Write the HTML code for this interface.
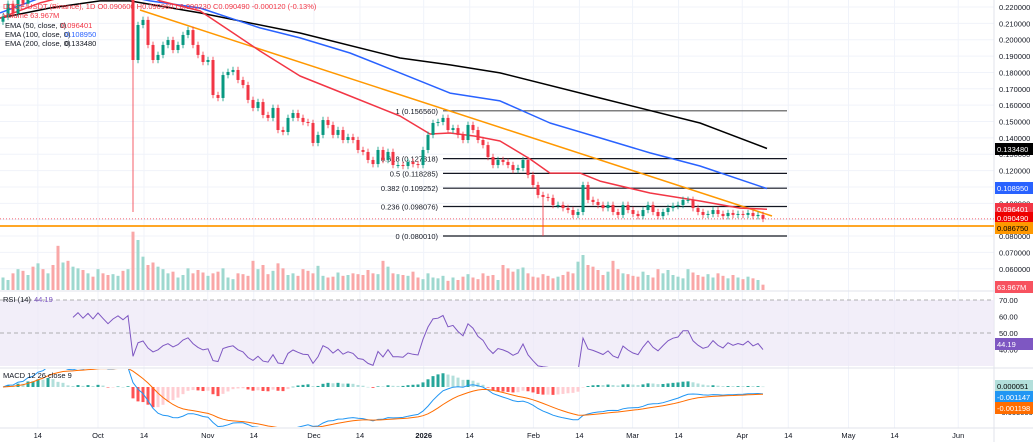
<!DOCTYPE html>
<html><head><meta charset="utf-8">
<style>
html,body{margin:0;padding:0;background:#fff;}
#wrap{position:relative;width:1033px;height:442px;overflow:hidden;font-family:"Liberation Sans",sans-serif;}
svg text{font-family:"Liberation Sans",sans-serif;}
</style></head>
<body>
<div id="wrap">
<svg id="chart" width="1033" height="442"></svg>
</div>
<script>
// ---- data ----
const closes=[0.214,0.222,0.216,0.228,0.222,0.235,0.23,0.242,0.236,0.248,0.24,0.232,0.238,0.23,0.236,0.244,0.238,0.246,0.24,0.25,0.244,0.238,0.245,0.25,0.246,0.252,
0.1876,
0.2090,0.2121,0.1968,0.1876,0.1907,0.1968,0.1998,0.1937,0.1968,0.2029,0.2059,0.1968,0.1907,0.1864,0.1876,0.1662,0.1644,0.1784,0.1803,0.1815,0.1754,0.1723,0.1632,0.1583,0.1619,0.1540,0.1522,0.1583,0.1448,0.1436,0.1522,0.1552,0.1522,0.1497,0.1491,0.1369,0.1418,0.1509,0.1479,0.1418,0.1448,0.1387,0.1405,0.1387,0.1326,0.1314,0.1265,0.1240,0.1326,0.1265,0.1314,0.1234,0.1234,0.1228,0.1253,0.1240,0.1234,0.1326,0.1418,0.1491,0.1497,0.1522,0.1448,0.1460,0.1418,0.1387,0.1479,0.1448,0.1387,0.1356,0.1283,0.1234,0.1265,0.1253,0.1234,0.1204,0.1216,0.1265,0.1173,0.1112,0.1051,0.1039,0.1033,0.0990,0.0990,0.0971,0.0959,0.0929,0.0947,0.1112,0.1021,0.1008,0.0990,0.0971,0.0990,0.0947,0.0929,0.0990,0.0959,0.0935,0.0922,0.0959,0.0990,0.0947,0.0922,0.0947,0.0971,0.0984,0.0990,0.1021,0.1021,0.0971,0.0947,0.0929,0.0935,0.0959,0.0935,0.0922,0.0941,0.0929,0.0935,0.0929,0.0941,0.0922,0.0929,0.0905];
const crashIndex=26;
const crashLow=0.0947;
const febLowIndex=108;
const febLow=0.0800;
const volumes=[150,120,200,250,230,180,280,320,250,200,300,530,330,350,280,260,240,200,160,250,200,180,190,170,230,250,700,600,400,300,330,280,250,200,220,150,180,260,200,240,210,170,200,220,260,150,130,200,190,170,350,250,300,190,230,320,260,180,200,170,250,230,200,290,170,150,160,210,170,180,200,190,180,240,200,190,350,280,200,190,180,170,220,150,130,200,150,140,170,110,150,120,160,190,150,130,200,170,180,120,300,260,220,250,270,200,160,150,190,170,140,160,180,220,200,340,420,300,280,240,180,220,350,250,200,190,170,160,220,180,150,250,200,240,180,160,140,250,210,180,160,190,150,200,170,140,180,150,130,160,140,120,64];
const ema200X=[0,50,100,130,200,300,400,450,500,600,700,767];
const ema200V=[0.2133,0.2194,0.2237,0.2237,0.2164,0.2041,0.1888,0.1846,0.1797,0.1644,0.1491,0.1335];
const ema100X=[0,40,100,150,200,260,300,350,400,450,500,550,600,650,700,767];
const ema100V=[0.2164,0.2255,0.2300,0.2237,0.2194,0.2072,0.2011,0.1919,0.1797,0.1674,0.1626,0.1491,0.1400,0.1308,0.1228,0.1090];
const ema50X=[0,40,120,160,200,230,260,300,350,400,430,450,475,500,530,550,580,600,650,700,740,767];
const ema50V=[0.2133,0.2225,0.2350,0.2237,0.2176,0.2054,0.1931,0.1778,0.1656,0.1534,0.1424,0.1430,0.1411,0.1381,0.1271,0.1185,0.1185,0.1136,0.1063,0.1014,0.0971,0.0964];
const fibLevels=[1,0.618,0.5,0.382,0.236,0];
const fibPrices=[0.156560,0.127318,0.118285,0.109252,0.098076,0.080010];
const priceTicks=[0.22,0.21,0.20,0.19,0.18,0.17,0.16,0.15,0.14,0.13,0.12,0.11,0.10,0.09,0.08,0.07,0.06];
const timeLabels=["14","Oct","14","Nov","14","Dec","14","2026","14","Feb","14","Mar","14","Apr","14","May","14","Jun"];
const timeDays=[-17,0,13,31,44,61,74,92,105,123,136,151,164,182,195,212,225,243];

// ---- scales ----
const NS="http://www.w3.org/2000/svg";
const svg=document.getElementById('chart');
const py=p=>7+(0.22-p)*1636;
const ix=i=>3+i*5;
const dx=d=>98+d*3.54;
const rsiY=v=>300+(70-v)*1.65;
const macdY=v=>387-v*3000;
const FS=7.5;
function el(tag,attrs,parent){const e=document.createElementNS(NS,tag);for(const k in attrs)e.setAttribute(k,attrs[k]);(parent||svg).appendChild(e);return e;}
function txt(s,x,y,attrs,parent){const t=el('text',Object.assign({x:x,y:y,'font-size':FS,fill:'#131722'},attrs),parent);t.textContent=s;return t;}

const defs=el('defs',{});
const cp=el('clipPath',{id:'mainclip'},defs);el('rect',{x:0,y:0,width:994,height:290},cp);
const cp2=el('clipPath',{id:'macdclip'},defs);el('rect',{x:0,y:369,width:994,height:58},cp2);
const cp3=el('clipPath',{id:'rsiclip'},defs);el('rect',{x:0,y:292,width:994,height:75},cp3);

const grid=el('g',{});


priceTicks.forEach(p=>el('line',{x1:0,x2:994,y1:py(p),y2:py(p),stroke:'#f0f3fa'},grid));
timeDays.forEach(d=>el('line',{x1:dx(d),x2:dx(d),y1:0,y2:428,stroke:'#f0f3fa'},grid));

el('line',{x1:0,x2:1033,y1:291,y2:291,stroke:'#e0e3eb'});
el('line',{x1:0,x2:1033,y1:368,y2:368,stroke:'#e0e3eb'});
el('line',{x1:0,x2:1033,y1:428,y2:428,stroke:'#e0e3eb'});
el('line',{x1:994,x2:994,y1:0,y2:442,stroke:'#e0e3eb'});

const main=el('g',{'clip-path':'url(#mainclip)'});



const volG=el('g',{},main);


for(let i=0;i<Math.min(closes.length,volumes.length);i++){
  const up=i===0?true:closes[i]>=closes[i-1];
  const h=volumes[i]/12;
  const r=el('rect',{x:ix(i)-1.5,y:290-h,width:3,height:h,fill:up?'#9ed8cf':'#f9a7a7'},volG);
  
  
}

const fibG=el('g',{},main);


fibLevels.forEach((l,k)=>{
  const y=py(fibPrices[k]);
  el('line',{x1:443,x2:787,y1:y,y2:y,stroke:k===0?'#555':'#131722','stroke-width':1.2},fibG);
  const t=txt(l+' ('+fibPrices[k].toFixed(6)+')',438,y+3,{'text-anchor':'end'},fibG);
  
  
});

const sup=el('line',{x1:0,x2:994,y1:226,y2:226,stroke:'#ffa726','stroke-width':2},main);


el('line',{x1:0,x2:994,y1:py(0.09049),y2:py(0.09049),stroke:'#f23645','stroke-dasharray':'1,2','stroke-width':0.7},main);

const tl=el('line',{x1:140,y1:10,x2:772,y2:216,stroke:'#ff9800','stroke-width':1.5},main);



function poly(X,V,color,name){const pts=X.map((x,k)=>x+','+py(V[k]).toFixed(1)).join(' ');const p=el('polyline',{points:pts,fill:'none',stroke:color,'stroke-width':1.5,'stroke-linejoin':'round'},main);}
poly(ema200X,ema200V,'#000','ema-200-line');
poly(ema100X,ema100V,'#2962ff','ema-100-line');
poly(ema50X,ema50V,'#f23645','ema-50-line');

const cG=el('g',{},main);


for(let i=0;i<closes.length;i++){
  const o=i===0?closes[0]-0.003:closes[i-1],c=closes[i];
  const up=c>=o,col=up?'#089981':'#f23645';
  let hi=Math.max(o,c)+0.002,lo=Math.min(o,c)-0.002;
  if(i===crashIndex)lo=crashLow;
  if(i===febLowIndex)lo=febLow;
  const x=ix(i);
  el('line',{x1:x,x2:x,y1:py(hi),y2:py(lo),stroke:col,'stroke-width':0.8},cG);
  const yt=py(Math.max(o,c)),yb=py(Math.min(o,c));
  const r=el('rect',{x:x-1.5,y:yt,width:3,height:Math.max(1,yb-yt),fill:col},cG);
  
  
}

const lg=el('g',{});


txt('DOGE/USDT (Binance), 1D  O0.090600  H0.090960  L0.090230  C0.090490  -0.000120 (-0.13%)',3,9,{fill:'#f23645'},lg);
txt('Volume  63.967M',3,18,{fill:'#f23645'},lg);
txt('EMA (50, close, 0)',5,28,{},lg);txt('0.096401',61,28,{fill:'#f23645'},lg);
txt('EMA (100, close, 0)',5,37,{},lg);txt('0.108950',65,37,{fill:'#2962ff'},lg);
txt('EMA (200, close, 0)',5,46,{},lg);txt('0.133480',65,46,{},lg);

const ax=el('g',{});


priceTicks.forEach(p=>txt(p.toFixed(6),999,py(p)+3,{},ax));
function badge(s,y,bg,fg,name){const g=el('g',{},ax);el('rect',{x:995,y:y-6,width:38,height:12,fill:bg},g);txt(s,997,y+3,{fill:fg},g);}
badge('0.133480',149,'#000','#fff','ema200-badge');
badge('0.108950',188,'#2962ff','#fff','ema100-badge');
badge('0.096401',209,'#f23645','#fff','ema50-badge');
badge('0.090490',218,'#e00','#fff','price-badge');
badge('0.086750',228,'#ff9800','#000','support-badge');
badge('63.967M',287,'#f7525f','#fff','volume-badge');

function rsi(arr,n){const out=new Array(arr.length).fill(null);let g=0,l=0;for(let i=1;i<arr.length;i++){const d=arr[i]-arr[i-1];const G=Math.max(d,0),L=Math.max(-d,0);if(i<=n){g+=G/n;l+=L/n;if(i<n)continue;}else{g=(g*(n-1)+G)/n;l=(l*(n-1)+L)/n;}out[i]=l===0?100:100-100/(1+g/l);}return out;}
const rsiVals=rsi(closes,14);
const rG=el('g',{'clip-path':'url(#rsiclip)'});


el('rect',{x:0,y:rsiY(70),width:994,height:rsiY(30)-rsiY(70),fill:'#ede7f6',opacity:0.7},rG);
el('line',{x1:0,x2:994,y1:rsiY(70),y2:rsiY(70),stroke:'#999','stroke-dasharray':'4,3','stroke-width':0.7},rG);
el('line',{x1:0,x2:994,y1:rsiY(50),y2:rsiY(50),stroke:'#999','stroke-dasharray':'4,3','stroke-width':0.7},rG);
let rp=[];rsiVals.forEach((v,i)=>{if(v!=null)rp.push(ix(i)+','+rsiY(v).toFixed(1));});
const rl=el('polyline',{points:rp.join(' '),fill:'none',stroke:'#7e57c2','stroke-width':1},rG);


txt('RSI (14)',3,302,{});txt('44.19',34,302,{fill:'#7e57c2'});
[70,60,50,40].forEach(v=>txt(v.toFixed(2),999,rsiY(v)+3,{},ax));
badge('44.19',344,'#7e57c2','#fff','rsi-badge');

function ema(arr,n){const k=2/(n+1);const o=[];arr.forEach((v,i)=>o.push(i===0?v:v*k+o[i-1]*(1-k)));return o;}
const e12=ema(closes,12),e26=ema(closes,26);
const macd=closes.map((_,i)=>e12[i]-e26[i]);
const sig=ema(macd,9);
const mG=el('g',{'clip-path':'url(#macdclip)'});


for(let i=1;i<closes.length;i++){
  const h=macd[i]-sig[i],hp=macd[i-1]-sig[i-1];
  const col=h>=0?(h>=hp?'#26a69a':'#b2dfdb'):(h<hp?'#ff5252':'#ffcdd2');
  const y0=macdY(0),y1=macdY(h);
  const r=el('rect',{x:ix(i)-1.5,y:Math.min(y0,y1),width:3,height:Math.max(0.5,Math.abs(y1-y0)),fill:col},mG);
  
  
}
const ml=el('polyline',{points:macd.map((v,i)=>ix(i)+','+macdY(v).toFixed(1)).join(' '),fill:'none',stroke:'#2196f3','stroke-width':1},mG);

const sl=el('polyline',{points:sig.map((v,i)=>ix(i)+','+macdY(v).toFixed(1)).join(' '),fill:'none',stroke:'#ff6d00','stroke-width':1},mG);

txt('MACD 12 26 close 9',3,378,{});
txt('-0.005000',999,415,{},ax);
badge('0.000051',386,'#b2dfdb','#000','macd-hist-badge');
badge('-0.001147',397,'#2196f3','#fff','macd-badge');
badge('-0.001198',408,'#ff6d00','#fff','signal-badge');

const tG=el('g',{});


timeLabels.forEach((s,k)=>txt(s,dx(timeDays[k]),438,{'text-anchor':'middle','font-weight':s==='2026'?'bold':'normal'},tG));
</script>
</body></html>
